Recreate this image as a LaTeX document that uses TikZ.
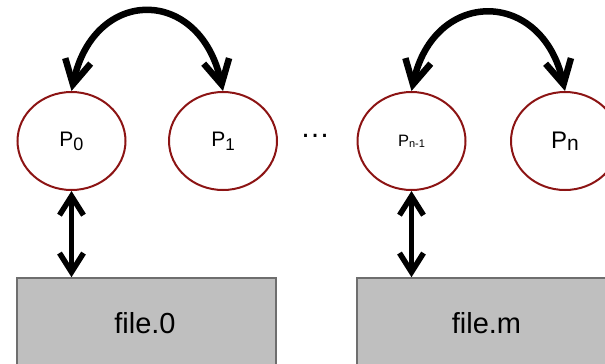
\documentclass[tikz,border=0pt]{standalone}
\usepackage{fontspec}
\setmainfont{Liberation Sans}
\usetikzlibrary{arrows.meta,shapes.geometric}
\definecolor{procred}{RGB}{140,20,20}
\definecolor{filegray}{RGB}{191,191,191}
\definecolor{fileedge}{RGB}{110,110,110}
% label "P" with a subscript: #1 size of P, #2 size of subscript, #3 drop, #4 subscript
\newcommand\proclabel[4]{{\fontsize{#1}{#1}\selectfont P}\raisebox{-#3}{\fontsize{#2}{#2}\selectfont #4}}
\tikzset{
  proc/.style={ellipse, draw=procred, line width=2pt, minimum width=108pt, minimum height=98pt, inner sep=0pt},
  filebox/.style={rectangle, draw=fileedge, fill=filegray, line width=1.6pt, minimum width=259pt, minimum height=92pt, inner sep=0pt},
  filelabel/.style={font=\fontsize{29}{29}\selectfont, inner sep=0pt},
  swaptip/.tip={Straight Barb[length=24pt,width=26pt,line width=6.5pt]},
  iotip/.tip={Straight Barb[length=19pt,width=24pt,line width=5.5pt]},
  swap/.style={line width=6.5pt, swaptip-swaptip},
  io/.style={line width=5.5pt, iotip-iotip}
}
\begin{document}
\begin{tikzpicture}[x=1pt,y=-1pt]
\useasboundingbox (0,0) rectangle (605,364);
\clip (0,0) rectangle (605,364);
% processes
\node[proc] (p0) at (71.5,141) {\proclabel{21}{18}{4pt}{0}};
\node[proc] (p1) at (223,141) {\proclabel{21}{17}{4pt}{1}};
\node[proc] (pn1) at (411.5,141) {\proclabel{16.5}{11}{1pt}{n-1}};
\node[proc] (pn) at (565,141) {\proclabel{24}{21}{2pt}{n}};
\node[font=\fontsize{30}{30}\selectfont, anchor=base, inner sep=0pt] (dots) at (315,137) {…};
% files
\node[filebox] (f0) at (146.5,324) {};
\node[filelabel] (f0t) at (145,323) {file.0};
\node[filebox] (fm) at (486.5,324) {};
\node[filelabel] (fmt) at (486.5,323) {file.m};
% message exchange between neighbouring processes
\draw[swap] (p0.north) .. controls (94,-14) and (200,-14) .. (p1.north);
\draw[swap] (pn1.north) .. controls (434,-12) and (542,-12) .. (pn.north);
% file access
\draw[io] (p0.south) -- (p0.south |- f0.north);
\draw[io] (pn1.south) -- (pn1.south |- fm.north);
\end{tikzpicture}
\end{document}
